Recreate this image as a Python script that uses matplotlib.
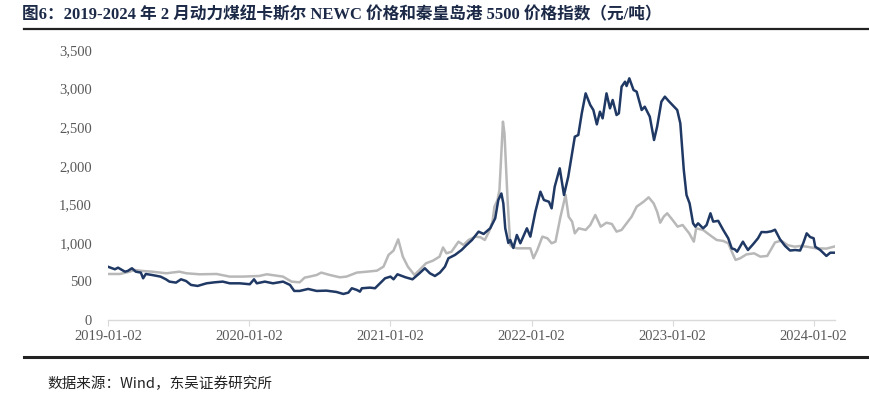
import matplotlib
matplotlib.use("Agg")
import matplotlib.pyplot as plt
import matplotlib.dates as mdates
from matplotlib.lines import Line2D
from matplotlib.ticker import FuncFormatter
import pandas as pd

# 纽卡斯尔 NEWC 动力煤价格（元/吨）
NEWC_DATES = [
    "2019-01-02", "2019-01-20", "2019-01-28", "2019-02-15", "2019-02-22", "2019-03-05",
    "2019-03-15", "2019-03-28", "2019-04-03", "2019-04-10", "2019-04-26", "2019-05-18",
    "2019-06-01", "2019-06-10", "2019-06-27", "2019-07-10", "2019-07-23", "2019-08-05",
    "2019-08-22", "2019-09-14", "2019-10-05", "2019-10-26", "2019-11-13", "2019-12-09",
    "2020-01-04", "2020-01-15", "2020-01-22", "2020-02-12", "2020-03-04", "2020-03-30",
    "2020-04-17", "2020-04-28", "2020-05-12", "2020-06-03", "2020-06-25", "2020-07-20",
    "2020-08-15", "2020-09-02", "2020-09-15", "2020-09-24", "2020-10-07", "2020-10-15",
    "2020-10-20", "2020-11-10", "2020-11-23", "2020-12-06", "2020-12-19", "2021-01-02",
    "2021-01-10", "2021-01-20", "2021-02-10", "2021-02-28", "2021-03-18", "2021-04-01",
    "2021-04-14", "2021-04-27", "2021-05-10", "2021-05-23", "2021-06-01", "2021-06-18",
    "2021-07-05", "2021-07-18", "2021-08-01", "2021-08-18", "2021-08-31", "2021-09-17",
    "2021-09-30", "2021-10-08", "2021-10-16", "2021-10-21", "2021-10-26", "2021-11-03",
    "2021-11-08", "2021-11-16", "2021-11-25", "2021-12-04", "2021-12-21", "2021-12-30",
    "2022-01-12", "2022-01-25", "2022-02-03", "2022-02-16", "2022-02-23", "2022-03-03",
    "2022-03-16", "2022-03-27", "2022-04-07", "2022-04-24", "2022-05-03", "2022-05-12",
    "2022-05-22", "2022-06-03", "2022-06-11", "2022-06-20", "2022-06-28", "2022-07-05",
    "2022-07-15", "2022-07-24", "2022-07-31", "2022-08-10", "2022-08-16", "2022-08-23",
    "2022-09-01", "2022-09-05", "2022-09-12", "2022-09-23", "2022-10-01", "2022-10-14",
    "2022-10-22", "2022-11-04", "2022-11-15", "2022-11-23", "2022-12-04", "2022-12-13",
    "2022-12-22", "2023-01-14", "2023-01-22", "2023-01-31", "2023-02-07", "2023-02-15",
    "2023-02-24", "2023-03-02", "2023-03-09", "2023-03-22", "2023-03-31", "2023-04-10",
    "2023-04-17", "2023-04-30", "2023-05-13", "2023-05-26", "2023-06-04", "2023-06-12",
    "2023-06-18", "2023-07-03", "2023-07-08", "2023-07-16", "2023-07-29", "2023-08-11",
    "2023-08-20", "2023-09-02", "2023-09-15", "2023-09-24", "2023-10-07", "2023-10-20",
    "2023-11-02", "2023-11-15", "2023-11-28", "2023-12-06", "2023-12-15", "2023-12-24",
    "2024-01-02", "2024-01-06", "2024-01-19", "2024-02-04", "2024-02-14", "2024-02-27",
]
NEWC_VALUES = [
    690, 657, 678, 626, 635, 670,
    626, 614, 540, 596, 583, 562,
    527, 497, 484, 527, 505, 454,
    441, 475, 488, 497, 475, 475,
    463, 527, 475, 497, 475, 497,
    454, 376, 376, 402, 376, 380,
    363, 337, 354, 411, 389, 367,
    411, 419, 411, 475, 540, 562,
    527, 592, 553, 527, 605, 670,
    605, 570, 614, 691, 800, 843,
    907, 972, 1037, 1145, 1115, 1188,
    1318, 1555, 1640, 1512, 1188, 998,
    1037, 933, 1102, 994, 1188, 1080,
    1404, 1663, 1555, 1533, 1447, 1728,
    1966, 1620, 1858, 2376, 2398, 2679,
    2938, 2787, 2722, 2536, 2700, 2614,
    2938, 2744, 2852, 2657, 2679, 3024,
    3089, 3033, 3133, 2981, 2960, 2722,
    2765, 2636, 2333, 2506, 2830, 2895,
    2843, 2722, 2549, 1944, 1620, 1512,
    1253, 1210, 1253, 1188, 1231, 1383,
    1275, 1285, 1167, 1059, 929, 915,
    885, 1015, 972, 907, 980, 1059,
    1140, 1138, 1150, 1170, 1045, 960,
    900, 907, 900, 994, 1123, 1075,
    1059, 950, 907, 830, 872, 872,
]

# 秦皇岛港 5500 价格指数（元/吨）
QHD_DATES = [
    "2019-01-02", "2019-02-02", "2019-02-27", "2019-03-12", "2019-04-02", "2019-04-26",
    "2019-06-02", "2019-07-06", "2019-07-24", "2019-08-27", "2019-10-10", "2019-11-13",
    "2019-12-17", "2020-01-28", "2020-02-17", "2020-03-30", "2020-04-21", "2020-05-12",
    "2020-05-25", "2020-06-07", "2020-06-25", "2020-07-07", "2020-07-29", "2020-08-24",
    "2020-09-10", "2020-10-07", "2020-11-02", "2020-11-28", "2020-12-15", "2020-12-28",
    "2021-01-10", "2021-01-22", "2021-02-03", "2021-02-16", "2021-03-05", "2021-03-18",
    "2021-04-04", "2021-04-22", "2021-05-09", "2021-05-18", "2021-05-27", "2021-06-09",
    "2021-06-27", "2021-07-10", "2021-07-23", "2021-08-10", "2021-08-23", "2021-09-03",
    "2021-09-14", "2021-09-23", "2021-09-28", "2021-10-06", "2021-10-11", "2021-10-15",
    "2021-10-20", "2021-10-24", "2021-11-01", "2021-11-08", "2021-11-12", "2021-11-25",
    "2021-12-30", "2022-01-07", "2022-01-17", "2022-01-30", "2022-02-12", "2022-02-23",
    "2022-03-05", "2022-03-18", "2022-03-31", "2022-04-08", "2022-04-17", "2022-04-24",
    "2022-05-04", "2022-05-22", "2022-06-03", "2022-06-16", "2022-06-30", "2022-07-15",
    "2022-07-29", "2022-08-10", "2022-08-23", "2022-09-05", "2022-09-18", "2022-10-01",
    "2022-10-19", "2022-11-01", "2022-11-14", "2022-11-23", "2022-12-01", "2022-12-10",
    "2022-12-19", "2023-01-02", "2023-01-15", "2023-01-28", "2023-02-14", "2023-02-26",
    "2023-03-04", "2023-03-22", "2023-04-08", "2023-04-26", "2023-05-13", "2023-05-26",
    "2023-06-08", "2023-06-14", "2023-06-26", "2023-07-12", "2023-08-01", "2023-08-17",
    "2023-09-04", "2023-09-24", "2023-10-10", "2023-10-27", "2023-11-14", "2023-11-28",
    "2023-12-15", "2024-01-08", "2024-02-04", "2024-02-27",
]
QHD_VALUES = [
    596, 596, 626, 648, 635, 626,
    605, 626, 605, 592, 596, 562,
    562, 570, 592, 562, 497, 488,
    549, 562, 583, 614, 583, 553,
    562, 614, 626, 639, 691, 843,
    900, 1045, 821, 691, 583, 648,
    735, 769, 821, 940, 864, 885,
    1015, 972, 1037, 1080, 1072, 1037,
    1145, 1275, 1469, 1555, 1685, 2074,
    2571, 2420, 1555, 972, 950, 929,
    929, 800, 907, 1080, 1059, 994,
    1015, 1339, 1620, 1339, 1275, 1123,
    1188, 1167, 1231, 1361, 1210, 1261,
    1244, 1145, 1167, 1253, 1339, 1469,
    1533, 1590, 1512, 1404, 1261, 1339,
    1383, 1296, 1210, 1231, 1123, 1015,
    1188, 1167, 1102, 1037, 1024, 994,
    843, 778, 800, 850, 864, 821,
    830, 1005, 1028, 970, 950, 959,
    950, 929, 925, 955,
]

YEAR_TICKS = ["2019-01-02", "2020-01-02", "2021-01-02", "2022-01-02", "2023-01-02", "2024-01-02"]
Y_TICKS = [0, 500, 1000, 1500, 2000, 2500, 3000, 3500]

TITLE = "图6：2019-2024 年 2 月动力煤纽卡斯尔 NEWC 价格和秦皇岛港 5500 价格指数（元/吨）"
SOURCE = "数据来源：Wind，东吴证券研究所"

SERIF = ["Liberation Serif", "Noto Sans CJK SC", "DejaVu Sans"]
NAVY = "#1f3864"
GRAY_LINE = "#b8b8b8"
TICK_GRAY = "#595959"
AXIS_GRAY = "#d9d9d9"

newc = pd.Series(NEWC_VALUES, index=pd.to_datetime(NEWC_DATES))
qhd = pd.Series(QHD_VALUES, index=pd.to_datetime(QHD_DATES))

fig = plt.figure(figsize=(8.7, 3.95), dpi=100, facecolor="white")
ax = fig.add_axes([0.1241, 0.19, 0.836, 0.6834])

ax.plot(qhd.index, qhd.values, color=GRAY_LINE, linewidth=1.8, zorder=2)
ax.plot(newc.index, newc.values, color=NAVY, linewidth=1.8, zorder=3)

ax.set_ylim(0, 3500)
ax.set_xlim(pd.Timestamp("2019-01-02"), pd.Timestamp("2024-02-27"))
ax.set_yticks(Y_TICKS)
ax.yaxis.set_major_formatter(FuncFormatter(lambda v, _: f"{int(v):,}"))
ax.set_xticks(pd.to_datetime(YEAR_TICKS))
ax.xaxis.set_major_formatter(mdates.DateFormatter("%Y-%m-%d"))

for side in ["top", "right", "left"]:
    ax.spines[side].set_visible(False)
ax.spines["bottom"].set_color(AXIS_GRAY)
ax.spines["bottom"].set_linewidth(1.0)
ax.tick_params(axis="x", direction="out", length=4, color=AXIS_GRAY, pad=3,
               labelcolor=TICK_GRAY, labelsize=10.5)
ax.tick_params(axis="y", length=0, pad=11.5, labelcolor=TICK_GRAY, labelsize=10.5)
for lab in ax.get_xticklabels() + ax.get_yticklabels():
    lab.set_family(SERIF)

# title, separator lines and source note
fig.text(0.025, 0.962, TITLE, family=SERIF, fontsize=12, fontweight="bold",
         color="#1c2a48", ha="left", va="center")
fig.add_artist(Line2D([0.0276, 1.0], [0.9266, 0.9266], color="#222222", linewidth=1.6))
fig.add_artist(Line2D([0.0276, 1.0], [0.0962, 0.0962], color="#222222", linewidth=2.2))
fig.text(0.054, 0.028, SOURCE, family=["Noto Sans CJK SC", "Liberation Serif"],
         fontsize=10.5, color="#222222", ha="left", va="center")

fig.savefig("out.png", dpi=100, facecolor="white")
